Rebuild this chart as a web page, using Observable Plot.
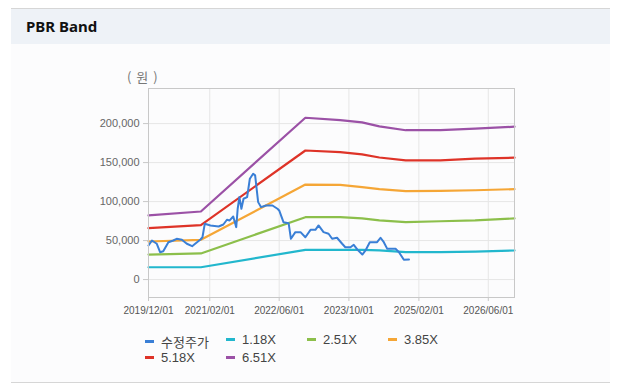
<!DOCTYPE html>
<html>
<head>
<meta charset="utf-8">
<script src="https://cdn.jsdelivr.net/npm/d3@7"></script>
<script src="https://cdn.jsdelivr.net/npm/@observablehq/plot@0.6"></script>
<style>
  html, body { margin: 0; padding: 0; background: #ffffff; }
  #wrap { position: relative; width: 618px; height: 389px; overflow: hidden; font-family: "Liberation Sans", "Noto Sans CJK KR", sans-serif; }
  #panel { position: absolute; left: 11px; top: 8px; width: 599px; height: 373px; background: #fcfcfd; border-top: 1px solid #d6d6d6; border-bottom: 1px solid #d6d6d6; }
  #header { position: absolute; left: 11px; top: 9px; width: 599px; height: 35px; background: #eef2f7; }
  #title { position: absolute; left: 26px; top: 16px; font: bold 15px "Noto Sans", "DejaVu Sans", sans-serif; color: #111; }
  #chart { position: absolute; left: 0; top: 0; }
  #unit { position: absolute; left: 127px; top: 67px; font-size: 13px; color: #777; font-family: "Noto Sans CJK KR", sans-serif; letter-spacing: 1px; }
  .leg { position: absolute; font-size: 13px; color: #444; display: flex; align-items: center; white-space: nowrap; font-family: "Liberation Sans", "Noto Sans CJK KR", sans-serif; }
  .sw { width: 9px; height: 3px; margin-right: 7px; }
</style>
</head>
<body>
<div id="wrap">
  <div id="panel"></div>
  <div id="header"></div>
  <div id="title">PBR Band</div>
  <div id="chart"></div>
  <div id="unit">( 원 )</div>
  <div id="legend"></div>
</div>
<script>
// Tick labels
const xTickLabels = ["2019/12/01", "2021/02/01", "2022/06/01", "2023/10/01", "2025/02/01", "2026/06/01"];
const yTicks = [0, 50000, 100000, 150000, 200000];

// PBR band lines (shared dates)
const bandDates = ["2019-12-01", "2020-12-01", "2022-12-01", "2023-08-01", "2024-01-01", "2024-05-01", "2024-11-01", "2025-07-01", "2026-03-01", "2026-12-01"];
const band118 = [15800, 15800, 38100, 38100, 38100, 37500, 35100, 35100, 35800, 37300];
const band251 = [32100, 33500, 80000, 80000, 78500, 76000, 73600, 74800, 75800, 78400];
const band385 = [48800, 51000, 121800, 121500, 118600, 116000, 113400, 113800, 114500, 116000];
const band518 = [65900, 69800, 165500, 163500, 160500, 156500, 152800, 152800, 155000, 156300];
const band651 = [82200, 87300, 207500, 204500, 201500, 196500, 191500, 191500, 193500, 196000];

// Adjusted stock price (수정주가)
const priceDates = [
  "2019-12-01", "2019-12-25", "2020-01-28", "2020-02-20", "2020-03-13", "2020-04-18", "2020-05-22", "2020-06-15",
  "2020-07-21", "2020-08-25", "2020-10-01", "2020-10-22", "2020-11-28", "2020-12-12", "2020-12-28", "2021-02-06",
  "2021-04-04", "2021-05-07", "2021-06-01", "2021-06-20", "2021-07-15", "2021-08-05", "2021-08-15", "2021-08-27",
  "2021-09-10", "2021-09-25", "2021-10-20", "2021-11-08", "2021-12-01", "2021-12-15", "2022-01-05", "2022-01-25",
  "2022-03-01", "2022-04-15", "2022-05-20", "2022-06-01", "2022-07-01", "2022-08-06", "2022-08-22", "2022-09-22",
  "2022-10-28", "2022-12-01", "2023-01-06", "2023-02-09", "2023-03-03", "2023-04-07", "2023-05-12", "2023-06-06",
  "2023-07-10", "2023-08-15", "2023-09-06", "2023-10-12", "2023-11-04", "2023-12-01", "2024-01-03", "2024-01-25",
  "2024-02-24", "2024-04-15", "2024-05-09", "2024-06-01", "2024-06-25", "2024-08-22", "2024-09-15", "2024-10-19",
  "2024-11-24"
];
const prices = [
  43700, 50100, 45900, 35100, 36400, 47900, 50100, 52300,
  51000, 45900, 42800, 45900, 51400, 54300, 71500, 69400,
  68100, 70600, 76700, 75800, 80900, 67200, 90800, 105700,
  90800, 103600, 105700, 129300, 135700, 133600, 99300, 92900,
  95000, 95000, 90800, 88600, 73600, 72300, 52300, 60800,
  60800, 54300, 63800, 63800, 69400, 60800, 58700, 52300,
  53600, 45900, 41500, 41500, 44600, 38100, 32100, 37300,
  47900, 47900, 53600, 47900, 39400, 39400, 35100, 25300,
  25700
];

const seriesNames = ["수정주가", "1.18X", "2.51X", "3.85X", "5.18X", "6.51X"];
const seriesColors = ["#3a7fd6", "#22b7cd", "#8cbf4b", "#f5a636", "#de3328", "#9b51a6"];

const parse = d3.utcParse("%Y-%m-%d");
const parseTick = d3.utcParse("%Y/%m/%d");
const bands = [band118, band251, band385, band518, band651];
const bandRows = [];
bands.forEach((vals, i) => {
  vals.forEach((v, j) => bandRows.push({date: parse(bandDates[j]), value: v, series: seriesNames[i + 1]}));
});
const priceRows = prices.map((v, i) => ({date: parse(priceDates[i]), value: v, series: seriesNames[0]}));

const colorScale = {domain: seriesNames, range: seriesColors};

const chart = Plot.plot({
  width: 618,
  height: 330,
  marginLeft: 148,
  marginRight: 104,
  marginTop: 88,
  marginBottom: 33,
  style: {background: "transparent", fontFamily: "'Liberation Sans', sans-serif", fontSize: "10px", color: "#555"},
  x: {
    type: "utc",
    domain: [parse("2019-12-01"), parse("2026-12-01")],
    ticks: xTickLabels.map(parseTick),
    tickFormat: d3.utcFormat("%Y/%m/%d"),
    tickSize: 4,
    tickPadding: 6,
    label: null
  },
  y: {
    domain: [-23000, 245000],
    ticks: yTicks,
    tickFormat: d3.format(","),
    tickSize: 5,
    tickPadding: 3,
    label: null
  },
  color: colorScale,
  marks: [
    Plot.gridX(xTickLabels.map(parseTick), {stroke: "#e6e6e6", strokeOpacity: 1}),
    Plot.gridY(yTicks, {stroke: "#e6e6e6", strokeOpacity: 1}),
    Plot.axisX({ticks: xTickLabels.map(parseTick), tickFormat: d3.utcFormat("%Y/%m/%d"), tickSize: 4, stroke: "#c8c8c8", fill: "#555", fontSize: 10}),
    Plot.axisY({ticks: yTicks, tickFormat: d3.format(","), tickSize: 5, stroke: "#c8c8c8", fill: "#666", fontSize: 11}),
    Plot.line(bandRows, {x: "date", y: "value", z: "series", stroke: "series", strokeWidth: 2.2, curve: "linear"}),
    Plot.line(priceRows, {x: "date", y: "value", stroke: "series", strokeWidth: 2}),
    Plot.frame({stroke: "#c8c8c8"})
  ]
});
document.getElementById("chart").appendChild(chart);

// Legend
const legend = document.getElementById("legend");
seriesNames.forEach((name, i) => {
  const col = i % 4, row = Math.floor(i / 4);
  const el = document.createElement("div");
  el.className = "leg";
  el.style.left = (145 + col * 81) + "px";
  el.style.top = (332 + row * 18) + "px";
  el.innerHTML = `<span class="sw" style="background:${seriesColors[i]}"></span><span>${name}</span>`;
  legend.appendChild(el);
});
</script>
</body>
</html>
